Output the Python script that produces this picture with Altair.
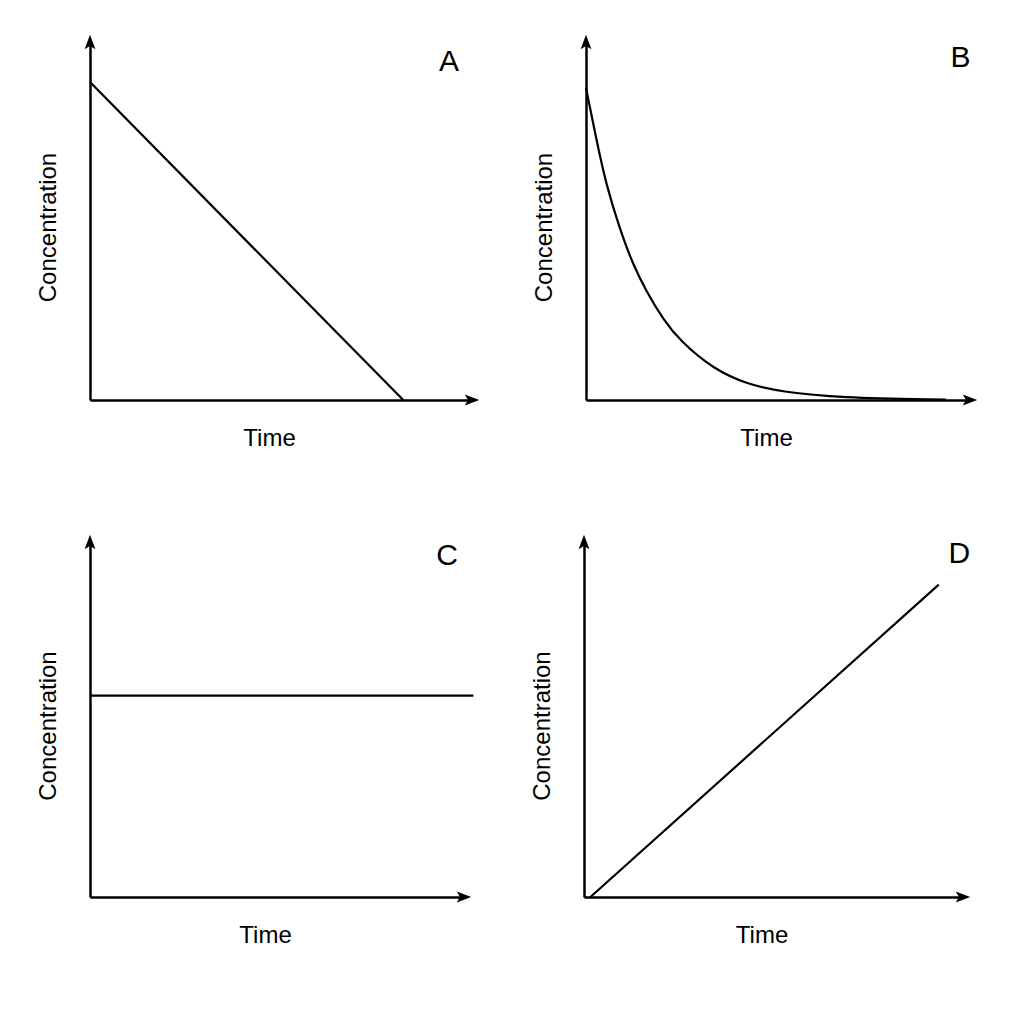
import pandas as pd
import altair as alt

# values (time and concentration in arbitrary units 0-10)
t_a = [0, 8.2]
c_a = [8.88, 0]

t_b = [0, 0.26, 0.52, 0.87, 1.22, 1.57, 2.01, 2.45, 3.32, 4.20, 5.08, 6.58, 9.37]
c_b = [8.72, 7.33, 6.03, 4.81, 3.79, 3.04, 2.25, 1.65, 0.86, 0.44, 0.23, 0.06, 0.01]

t_c = [0, 10.25]
c_c = [5.67, 5.67]

t_d = [0.17, 9.36]
c_d = [0, 8.8]

letters = ["A", "B", "C", "D"]
letter_t = [9.4, 9.75, 9.55, 9.9]
letter_c = [9.44, 9.55, 9.6, 9.65]

# plot-area size of each panel
sizes = [(382, 358), (384, 358), (374, 355), (379, 355)]
FONT = "Liberation Sans"

# arrowheads as svg paths in unit coords
up_arrow = "M0,-1L0.75,1L0,0.55L-0.75,1Z"
right_arrow = "M1,0L-1,0.75L-0.55,0L-1,-0.75Z"

xscale = alt.Scale(domain=[0, 10], nice=False, zero=False)
yscale = alt.Scale(domain=[0, 10], nice=False, zero=False)


def panel(t, c, i):
    W, H = sizes[i]
    df = pd.DataFrame({'t': t, 'c': c})
    line = alt.Chart(df).mark_line(color='black', strokeWidth=2.2,
                                   interpolate='basis', clip=False).encode(
        x=alt.X('t:Q', scale=xscale,
                axis=alt.Axis(title='Time', titleX=W / 2 - 12)),
        y=alt.Y('c:Q', scale=yscale,
                axis=alt.Axis(title='Concentration', titleY=H / 2 + 6)),
    )
    # arrow tips at the ends of the axes
    up = alt.Chart(pd.DataFrame({'t': [0], 'c': [10]})).mark_point(
        shape=up_arrow, filled=True, size=210, color='black', opacity=1
    ).encode(x=alt.X('t:Q', scale=xscale), y=alt.Y('c:Q', scale=yscale))
    right = alt.Chart(pd.DataFrame({'t': [10], 'c': [0]})).mark_point(
        shape=right_arrow, filled=True, size=210, color='black', opacity=1
    ).encode(x=alt.X('t:Q', scale=xscale), y=alt.Y('c:Q', scale=yscale))
    lab = alt.Chart(pd.DataFrame({'t': [letter_t[i]], 'c': [letter_c[i]],
                                  'lab': [letters[i]]})).mark_text(
        font=FONT, fontSize=30, color='black', align='center', baseline='middle'
    ).encode(x=alt.X('t:Q', scale=xscale), y=alt.Y('c:Q', scale=yscale),
             text='lab:N')
    return alt.layer(line, up, right, lab).properties(width=W, height=H)


top = alt.hconcat(panel(t_a, c_a, 0), panel(t_b, c_b, 1), spacing=52)
bottom = alt.hconcat(panel(t_c, c_c, 2), panel(t_d, c_d, 3), spacing=52)

chart = alt.vconcat(top, bottom, spacing=84).properties(
    padding={"left": 28, "top": 26, "right": 5, "bottom": 5}
).configure_axis(
    ticks=False, labels=False, grid=False,
    domainColor='black', domainWidth=2.5,
    titleFont=FONT, titleFontSize=24, titleFontWeight='normal',
    titleColor='black', titlePadding=26
).configure_axisY(titlePadding=30).configure_view(stroke=None)

chart.save("out.html", embed_options={"renderer": "svg", "actions": False})
